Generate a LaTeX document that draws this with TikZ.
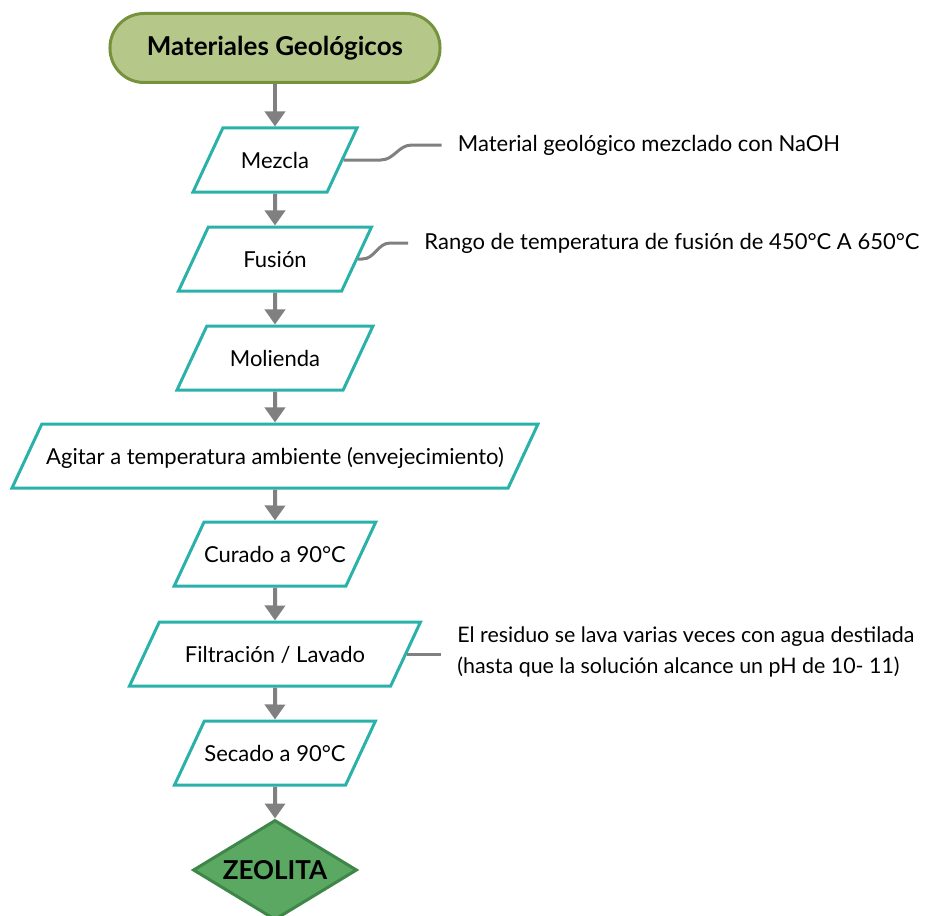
\documentclass[tikz,border=0pt]{standalone}
\usepackage{fontspec}
\setmainfont{Lato}
\usepackage{tikz}
\usetikzlibrary{shapes.geometric,arrows.meta,positioning,calc}

\definecolor{borde}{RGB}{42,178,170}
\definecolor{flecha}{RGB}{128,128,128}
\definecolor{inicioFondo}{RGB}{181,200,138}
\definecolor{inicioBorde}{RGB}{118,146,60}
\definecolor{finFondo}{RGB}{90,168,98}
\definecolor{finBorde}{RGB}{62,135,72}

\begin{document}
\begin{tikzpicture}[x=1pt, y=1pt, node distance=99pt, auto]
        % Define styles
        \tikzstyle{inicio} = [rectangle, draw=inicioBorde, fill=inicioFondo, line width=3pt, rounded corners=34pt, minimum width=330pt, minimum height=69pt, font=\fontsize{26}{30}\selectfont\bfseries]
        \tikzstyle{paso} = [trapezium, trapezium left angle=65, trapezium right angle=115, trapezium stretches body, draw=borde, fill=white, line width=3pt, text height=19pt, text depth=3pt, inner ysep=21pt, inner xsep=0pt, font=\fontsize{22}{26}\selectfont]
        \tikzstyle{fin} = [diamond, aspect=1.64, inner sep=0pt, draw=finBorde, fill=finFondo, line width=3pt, minimum width=164pt, minimum height=100pt, font=\fontsize{26}{30}\selectfont\bfseries]
        \tikzstyle{nota} = [align=left, inner xsep=16pt, font=\fontsize{22}{31}\selectfont]
        \tikzstyle{arrow} = [flecha, line width=4pt, -{Triangle[width=20pt,length=15pt]}]
        \tikzstyle{linea} = [flecha, line width=3pt]

        \useasboundingbox (-275,48) rectangle (653,-867);

        % Process steps
        \node [inicio] (inicio) {Materiales Geológicos};
        \node [paso, minimum width=164pt, below of=inicio, node distance=112pt] (mezcla) {Mezcla};
        \node [paso, minimum width=193pt, below of=mezcla] (fusion) {Fusión};
        \node [paso, minimum width=196pt, below of=fusion] (molienda) {Molienda};
        \node [paso, minimum width=526pt, below of=molienda, node distance=98pt] (agitar) {Agitar a temperatura ambiente (envejecimiento)};
        \node [paso, minimum width=198pt, below of=agitar, node distance=98pt] (curado) {Curado a 90°C};
        \node [paso, minimum width=291pt, below of=curado, node distance=100pt] (filtracion) {Filtración / Lavado};
        \node [paso, minimum width=198pt, below of=filtracion] (secado) {Secado a 90°C};
        \node [fin, below of=secado, node distance=117pt] (zeolita) {ZEOLITA};

        % Arrows
        \draw [arrow] (inicio) -- (mezcla);
        \draw [arrow] (mezcla) -- (fusion);
        \draw [arrow] (fusion) -- (molienda);
        \draw [arrow] (molienda) -- (agitar);
        \draw [arrow] (agitar) -- (curado);
        \draw [arrow] (curado) -- (filtracion);
        \draw [arrow] (filtracion) -- (secado);
        \draw [arrow] (secado) -- (zeolita);

        % Notes
        \node [nota, right=98pt of mezcla.right side, yshift=15pt] (notaMezcla) {Material geológico mezclado con NaOH};
        \node [nota, right=50pt of fusion.right side, yshift=16pt] (notaFusion) {Rango de temperatura de fusión de 450°C A 650°C};
        \node [nota, right=34pt of filtracion.right side, yshift=2pt, font=\fontsize{21.4}{31}\selectfont] (notaFiltracion) {El residuo se lava varias veces con agua destilada\\(hasta que la solución alcance un pH de 10- 11)};

        \draw [linea] (mezcla.right side) -- ++(37,0) to[out=0, in=180] ($(notaMezcla.west)+(-30,0)$) -- (notaMezcla.west);
        \draw [linea] (fusion.right side) -- ++(4,0) to[out=0, in=180] ($(notaFusion.west)+(-18,0)$) -- (notaFusion.west);
        \draw [linea] (filtracion.right side) -- (filtracion.right side -| notaFiltracion.west);
    \end{tikzpicture}
\end{document}
